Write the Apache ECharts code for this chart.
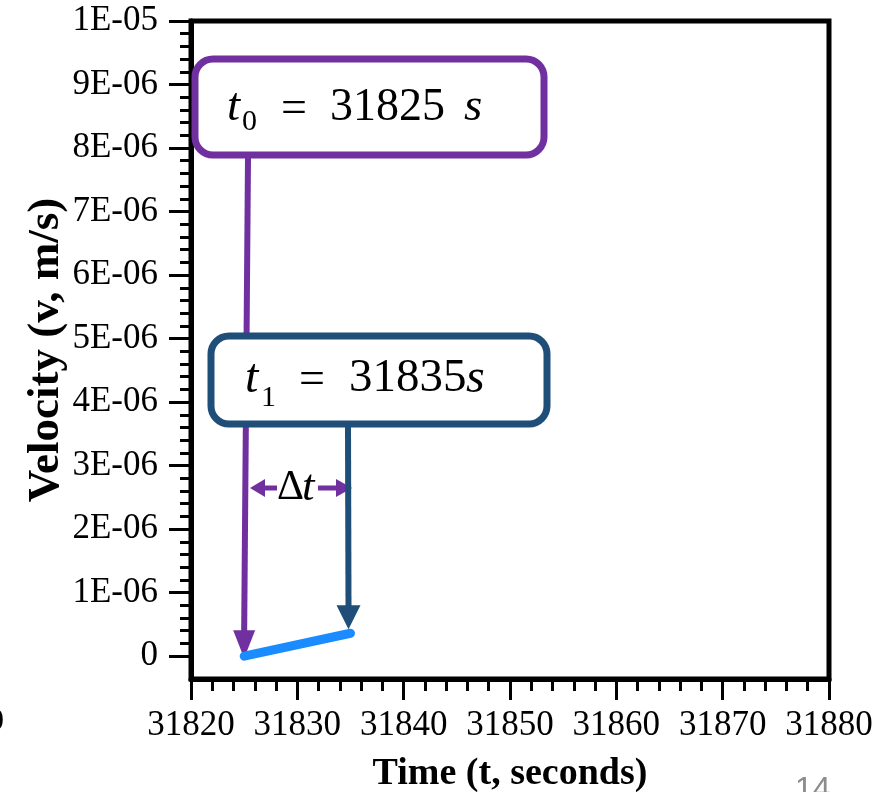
<!DOCTYPE html>
<html>
<head>
<meta charset="utf-8">
<script src="https://cdn.jsdelivr.net/npm/echarts@6/dist/echarts.min.js"></script>
<style>
  html, body { margin: 0; padding: 0; background: #fff; }
  #chart { width: 879px; height: 792px; }
</style>
</head>
<body>
<div id="chart"></div>
<script>
// velocity vs time, two points t0 / t1
const timeData = [31825, 31835];
const velocityData = [0, 3.6e-7];
const yTicks = [0, 1e-6, 2e-6, 3e-6, 4e-6, 5e-6, 6e-6, 7e-6, 8e-6, 9e-6, 1e-5];
const yTickLabels = ['0', '1E-06', '2E-06', '3E-06', '4E-06', '5E-06', '6E-06', '7E-06', '8E-06', '9E-06', '1E-05'];
const t0Text = '31825';
const t1Text = '31835';

const serif = 'Liberation Serif';
const purple = '#7030A0';
const navy = '#1F4E79';
const yMin = -3.6e-7;
const yMax = 1e-5;

// minor ticks between the labelled ones (5 divisions)
const minorY = [];
for (let i = 0; i < yTicks.length - 1; i++) {
  for (let k = 1; k < 5; k++) {
    minorY.push(yTicks[i] + (yTicks[i + 1] - yTicks[i]) * k / 5);
  }
}

const chart = echarts.init(document.getElementById('chart'));

const option = {
  animation: false,
  grid: {
    left: 191, right: 50, top: 21, bottom: 113,
    outerBoundsMode: 'none',
    containLabel: false,
    show: true, borderColor: '#000', borderWidth: 5,
  },
  xAxis: {
    type: 'value',
    min: 31820, max: 31880, interval: 10,
    name: 'Time (t, seconds)',
    nameLocation: 'middle',
    nameGap: 76,
    nameTextStyle: { fontFamily: serif, fontWeight: 'bold', fontSize: 38, color: '#000' },
    axisLine: { onZero: false, lineStyle: { color: '#000', width: 5 } },
    axisTick: { length: 21, lineStyle: { color: '#000', width: 3 } },
    minorTick: { show: true, splitNumber: 5, length: 12, lineStyle: { color: '#000', width: 3 } },
    splitLine: { show: false },
    axisLabel: {
      fontFamily: serif, fontSize: 35, color: '#000', margin: 29,
      formatter: (v) => String(v),
    },
  },
  yAxis: [
    {
      type: 'value',
      min: yMin, max: yMax,
      position: 'left',
      name: 'Velocity (v, m/s)',
      nameLocation: 'middle',
      nameGap: 122,
      nameMoveOverlap: false,
      nameTextStyle: { fontFamily: serif, fontWeight: 'bold', fontSize: 45, color: '#000' },
      axisLine: { show: true, onZero: false, lineStyle: { color: '#000', width: 5 } },
      axisTick: { show: true, length: 22, customValues: yTicks, lineStyle: { color: '#000', width: 3 } },
      splitLine: { show: false },
      axisLabel: {
        customValues: yTicks,
        fontFamily: serif, fontSize: 35, color: '#000', margin: 33,
        formatter: (v) => {
          let best = 0;
          yTicks.forEach((t, i) => {
            if (Math.abs(t - v) < Math.abs(yTicks[best] - v)) best = i;
          });
          return yTickLabels[best];
        },
      },
    },
    {
      // only the short ticks
      type: 'value',
      min: yMin, max: yMax,
      position: 'left',
      axisLine: { show: false, onZero: false },
      axisTick: { show: true, length: 11, customValues: minorY, lineStyle: { color: '#000', width: 3 } },
      axisLabel: { show: false },
      splitLine: { show: false },
    },
  ],
  series: [
    {
      type: 'line',
      data: timeData.map((t, i) => [t, velocityData[i]]),
      symbol: 'none',
      z: 20,
      lineStyle: { color: '#1a8cff', width: 9, cap: 'round' },
    },
  ],
};

chart.setOption(option);

// annotations, arrow tips follow the data points
const p0 = chart.convertToPixel({ gridIndex: 0 }, [timeData[0], velocityData[0]]);
const p1 = chart.convertToPixel({ gridIndex: 0 }, [timeData[1], velocityData[1]]);

function txt(x, y, s, size, italic, color, family) {
  return {
    type: 'text', x: x, y: y, z: 30,
    style: {
      text: s,
      fontFamily: family || serif,
      fontSize: size,
      fontStyle: italic ? 'italic' : 'normal',
      fill: color || '#000',
      align: 'left',
      verticalAlign: 'middle',
    },
  };
}

const graphics = [
  // purple arrow to t0
  { type: 'polyline', z: 12, shape: { points: [[248, 158], [p0[0], p0[1] - 24]] },
    style: { stroke: purple, lineWidth: 6 } },
  { type: 'polygon', z: 12, shape: { points: [[p0[0] - 11, p0[1] - 26], [p0[0] + 11, p0[1] - 26], [p0[0], p0[1] + 2]] },
    style: { fill: purple } },
  // navy arrow to t1
  { type: 'polyline', z: 14, shape: { points: [[348, 427], [p1[0] - 2, p1[1] - 26]] },
    style: { stroke: navy, lineWidth: 6 } },
  { type: 'polygon', z: 14, shape: { points: [[p1[0] - 14, p1[1] - 28], [p1[0] + 10, p1[1] - 28], [p1[0] - 2, p1[1] - 4]] },
    style: { fill: navy } },
  // boxes
  { type: 'rect', z: 13, shape: { x: 195, y: 59, width: 349, height: 96, r: 18 },
    style: { fill: '#fff', stroke: purple, lineWidth: 7 } },
  { type: 'rect', z: 13, shape: { x: 211, y: 336, width: 336, height: 88, r: 18 },
    style: { fill: '#fff', stroke: navy, lineWidth: 7 } },
  // delta t arrows
  { type: 'polyline', z: 12, shape: { points: [[262, 488], [277, 488]] }, style: { stroke: purple, lineWidth: 5 } },
  { type: 'polygon', z: 12, shape: { points: [[250, 488], [265, 479], [265, 497]] }, style: { fill: purple } },
  { type: 'polyline', z: 12, shape: { points: [[318, 488], [338, 488]] }, style: { stroke: purple, lineWidth: 5 } },
  { type: 'polygon', z: 12, shape: { points: [[352, 488], [336, 479], [336, 497]] }, style: { fill: purple } },
  // box texts
  txt(227, 108, 't', 47, true),
  txt(242, 122, '0', 30, false),
  txt(281, 110, '=', 46, false),
  txt(330, 108, t0Text, 46, false),
  txt(464, 108, 's', 47, true),
  txt(245, 379, 't', 48, true),
  txt(261, 398, '1', 30, false),
  txt(299, 381, '=', 46, false),
  txt(349, 379, t1Text, 47, false),
  txt(466, 379, 's', 48, true),
  txt(277, 488, 'Δ', 42, false),
  txt(302, 488, 't', 45, true),
  // slide leftovers
  txt(-12, 722, '0', 32, false),
  { type: 'text', x: 795, y: 774, z: 30,
    style: { text: '14', fontFamily: 'Liberation Sans', fontSize: 32, fill: '#8c8c8c', align: 'left', verticalAlign: 'top' } },
];

chart.setOption({ graphic: graphics });
</script>
</body>
</html>
